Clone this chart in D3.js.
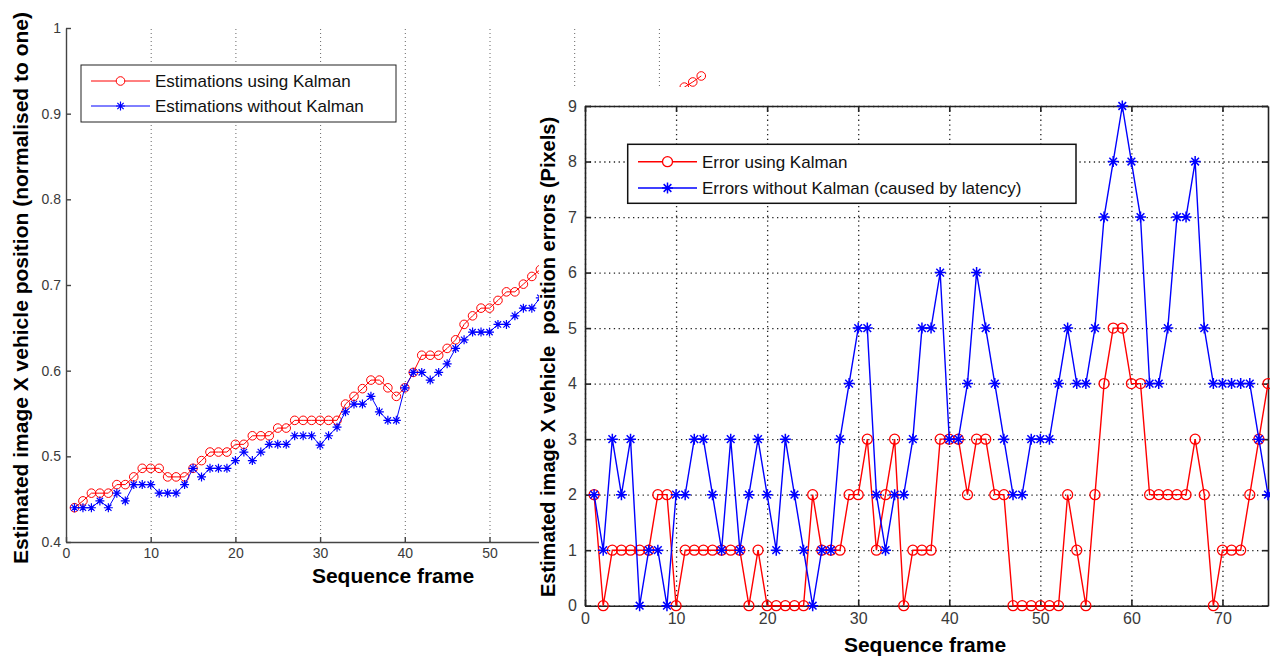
<!DOCTYPE html>
<html>
<head>
<meta charset="utf-8">
<script src="https://cdn.jsdelivr.net/npm/d3@7"></script>
<style>
  body { margin: 0; background: #fff; }
  text { font-family: "Liberation Sans", Arial, sans-serif; }
</style>
</head>
<body>
<div id="plot"></div>
<script>
// ---- left panel: estimated X position (normalised) ----
const posKalmanFrames = [1,2,3,4,5,6,7,8,9,10,11,12,13,14,15,16,17,18,19,20,21,22,23,24,25,26,27,28,29,30,
  31,32,33,34,35,36,37,38,39,40,41,42,43,44,45,46,47,48,49,50,51,52,53,54,55,56,73,74,75];
const posKalman = [0.440,0.448,0.457,0.457,0.457,0.467,0.467,0.476,0.486,0.486,
  0.486,0.476,0.476,0.476,0.486,0.495,0.505,0.505,0.505,0.514,
  0.514,0.524,0.524,0.524,0.533,0.533,0.542,0.542,0.542,0.542,
  0.542,0.542,0.561,0.570,0.579,0.589,0.589,0.580,0.570,0.580,
  0.598,0.618,0.618,0.618,0.626,0.636,0.654,0.664,0.673,0.673,
  0.682,0.692,0.692,0.701,0.710,0.718,0.931,0.937,0.944];
const posRawFrames = [1,2,3,4,5,6,7,8,9,10,11,12,13,14,15,16,17,18,19,20,21,22,23,24,25,26,27,28,29,30,
  31,32,33,34,35,36,37,38,39,40,41,42,43,44,45,46,47,48,49,50,51,52,53,54,55,56];
const posRaw = [0.440,0.440,0.440,0.448,0.440,0.457,0.448,0.467,0.467,0.467,
  0.457,0.457,0.457,0.467,0.486,0.476,0.486,0.486,0.486,0.495,
  0.505,0.495,0.505,0.514,0.514,0.514,0.524,0.524,0.524,0.513,
  0.524,0.534,0.552,0.561,0.561,0.570,0.552,0.542,0.542,0.580,
  0.598,0.598,0.589,0.598,0.608,0.626,0.636,0.645,0.645,0.645,
  0.654,0.654,0.664,0.673,0.673,0.685];
const posXTicks = [0,10,20,30,40,50,60,70];
const posYTicks = [0.4,0.5,0.6,0.7,0.8,0.9,1];

// ---- right panel: position errors in pixels ----
const errFrames = [1,2,3,4,5,6,7,8,9,10,11,12,13,14,15,16,17,18,19,20,21,22,23,24,25,
  26,27,28,29,30,31,32,33,34,35,36,37,38,39,40,41,42,43,44,45,46,47,48,49,50,
  51,52,53,54,55,56,57,58,59,60,61,62,63,64,65,66,67,68,69,70,71,72,73,74,75];
const errKalman = [2,0,1,1,1,1,1,2,2,0, 1,1,1,1,1,1,1,0,1,0, 0,0,0,0,2,1,1,1,2,2,
  3,1,2,3,0,1,1,1,3,3, 3,2,3,3,2,2,0,0,0,0, 0,0,2,1,0,2,4,5,5,4,
  4,2,2,2,2,2,3,2,0,1, 1,1,2,3,4];
const errRaw = [2,1,3,2,3,0,1,1,0,2, 2,3,3,2,1,3,1,2,3,2, 1,3,2,1,0,1,1,3,4,5,
  5,2,1,2,2,3,5,5,6,3, 3,4,6,5,4,3,2,2,3,3, 3,4,5,4,4,5,7,8,9,8,
  7,4,4,5,7,7,8,5,4,4, 4,4,4,3,2];
const errXTicks = [0,10,20,30,40,50,60,70];
const errYTicks = [0,1,2,3,4,5,6,7,8,9];

const RED = "#ff0000";
const BLUE = "#0000ff";

const svgWidth = 1270;
const svgHeight = 656;
const coverX = 539;   // where the right figure is pasted over the left one
const coverY = 87;

const svg = d3.select("#plot")
  .append("svg")
  .attr("width", svgWidth)
  .attr("height", svgHeight);

svg.append("rect")
  .attr("width", svgWidth)
  .attr("height", svgHeight)
  .attr("fill", "#fff");

// marker helpers
function starPath(cx, cy, s) {
  const d = s * 0.7;
  return `M${cx - s},${cy}H${cx + s}M${cx},${cy - s}V${cy + s}` +
    `M${cx - d},${cy - d}L${cx + d},${cy + d}M${cx - d},${cy + d}L${cx + d},${cy - d}`;
}

function drawSeries(g, frames, values, x, y, color, marker, opts) {
  const pts = frames.map((f, i) => [x(f), y(values[i])]);
  g.append("path")
    .attr("d", d3.line()(pts))
    .attr("fill", "none")
    .attr("stroke", color)
    .attr("stroke-width", opts.lw);
  if (marker === "o") {
    g.selectAll(null).data(pts).enter().append("circle")
      .attr("cx", d => d[0]).attr("cy", d => d[1])
      .attr("r", opts.r)
      .attr("fill", "none")
      .attr("stroke", color)
      .attr("stroke-width", opts.mw);
  } else {
    g.selectAll(null).data(pts).enter().append("path")
      .attr("d", d => starPath(d[0], d[1], opts.r))
      .attr("fill", "none")
      .attr("stroke", color)
      .attr("stroke-width", opts.mw);
  }
}

function legendEntry(g, x0, x1, y, color, marker, label, opts) {
  g.append("line")
    .attr("x1", x0).attr("x2", x1).attr("y1", y).attr("y2", y)
    .attr("stroke", color).attr("stroke-width", opts.lw);
  const mx = (x0 + x1) / 2;
  if (marker === "o") {
    g.append("circle").attr("cx", mx).attr("cy", y).attr("r", opts.r)
      .attr("fill", "#fff").attr("stroke", color).attr("stroke-width", opts.mw);
  } else {
    g.append("path").attr("d", starPath(mx, y, opts.r))
      .attr("stroke", color).attr("stroke-width", opts.mw);
  }
  g.append("text")
    .attr("x", x1 + 5).attr("y", y).attr("dy", "0.36em")
    .style("font-size", "17px").attr("fill", "#111")
    .text(label);
}

// ================= LEFT PANEL =================
const lx = d3.scaleLinear().domain([0, 80]).range([66, 743.6]);
const ly = d3.scaleLinear().domain([0.4, 1]).range([542, 28]);
const left = svg.append("g");

// vertical dotted grid only
left.append("g")
  .attr("transform", "translate(0,542)")
  .call(d3.axisBottom(lx).tickValues(posXTicks.slice(1)).tickSize(-(542 - 28)).tickFormat(""))
  .call(g => g.select(".domain").remove())
  .call(g => g.selectAll("line").attr("stroke", "#666").attr("stroke-dasharray", "1,3"));

const leftX = left.append("g")
  .attr("transform", "translate(0,542)")
  .call(d3.axisBottom(lx).tickValues(posXTicks).tickSizeInner(-5).tickSizeOuter(0).tickPadding(6));
// labels under the pasted right figure are not visible
leftX.selectAll(".tick").filter(d => lx(d) > coverX).select("text").remove();

const leftY = left.append("g")
  .attr("transform", "translate(66,0)")
  .call(d3.axisLeft(ly).tickValues(posYTicks).tickSizeInner(-5).tickSizeOuter(0).tickPadding(5)
    .tickFormat(d => d === 1 ? "1" : d3.format(".1f")(d)));
[leftX, leftY].forEach(a => {
  a.selectAll("path, line").attr("stroke", "#444").attr("stroke-width", 1.4);
  a.selectAll("text").style("font-size", "14px").attr("fill", "#3a3a3a");
});

drawSeries(left, posKalmanFrames, posKalman, lx, ly, RED, "o", { lw: 1, r: 4.3, mw: 1 });
drawSeries(left, posRawFrames, posRaw, lx, ly, BLUE, "*", { lw: 1, r: 4.5, mw: 1.2 });

left.append("text")
  .attr("x", 393).attr("y", 583)
  .attr("text-anchor", "middle")
  .style("font-size", "21px").style("font-weight", "bold")
  .text("Sequence frame");

left.append("text")
  .attr("transform", "translate(28,288) rotate(-90)")
  .attr("text-anchor", "middle")
  .style("font-size", "21px").style("font-weight", "bold")
  .text("Estimated image X vehicle position (normalised to one)");

// legend
const leftLegend = left.append("g");
leftLegend.append("rect")
  .attr("x", 81).attr("y", 65).attr("width", 315).attr("height", 57)
  .attr("fill", "#fff").attr("stroke", "#222").attr("stroke-width", 1);
legendEntry(leftLegend, 91, 150, 81, RED, "o", "Estimations using Kalman", { lw: 1, r: 4.3, mw: 1 });
legendEntry(leftLegend, 91, 150, 106, BLUE, "*", "Estimations without Kalman", { lw: 1, r: 4.5, mw: 1.2 });

// ================= RIGHT PANEL (pasted over the left one) =================
svg.append("rect")
  .attr("x", coverX).attr("y", coverY)
  .attr("width", svgWidth - coverX).attr("height", svgHeight - coverY)
  .attr("fill", "#fff");

const rx = d3.scaleLinear().domain([0, 75]).range([585, 1268]);
const ry = d3.scaleLinear().domain([0, 9]).range([605.7, 106]);
const right = svg.append("g");

// dotted grid
right.append("g")
  .attr("transform", "translate(0,605.7)")
  .call(d3.axisBottom(rx).tickValues(errXTicks).tickSize(-(605.7 - 106)).tickFormat(""))
  .call(g => g.select(".domain").remove())
  .call(g => g.selectAll("line").attr("stroke", "#222").attr("stroke-width", 1.3).attr("stroke-dasharray", "1.3,3.5"));
right.append("g")
  .attr("transform", "translate(585,0)")
  .call(d3.axisLeft(ry).tickValues(errYTicks).tickSize(-(1268 - 585)).tickFormat(""))
  .call(g => g.select(".domain").remove())
  .call(g => g.selectAll("line").attr("stroke", "#222").attr("stroke-width", 1.3).attr("stroke-dasharray", "1.3,3.5"));

// box axes with inward ticks
const rBottom = right.append("g").attr("transform", "translate(0,605.7)")
  .call(d3.axisBottom(rx).tickValues(errXTicks).tickSizeInner(-6).tickSizeOuter(0).tickPadding(7));
const rLeft = right.append("g").attr("transform", "translate(585,0)")
  .call(d3.axisLeft(ry).tickValues(errYTicks).tickSizeInner(-6).tickSizeOuter(0).tickPadding(8));
const rTop = right.append("g").attr("transform", "translate(0,106)")
  .call(d3.axisTop(rx).tickValues(errXTicks).tickSizeInner(-6).tickSizeOuter(0).tickFormat(""));
const rRight = right.append("g").attr("transform", "translate(1268,0)")
  .call(d3.axisRight(ry).tickValues(errYTicks).tickSizeInner(-6).tickSizeOuter(0).tickFormat(""));
[rBottom, rLeft, rTop, rRight].forEach(a => {
  a.selectAll("path, line").attr("stroke", "#222").attr("stroke-width", 1.6);
  a.selectAll("text").style("font-size", "16px").attr("fill", "#3a3a3a");
});

drawSeries(right, errFrames, errKalman, rx, ry, RED, "o", { lw: 1.4, r: 5, mw: 1.3 });
drawSeries(right, errFrames, errRaw, rx, ry, BLUE, "*", { lw: 1.4, r: 5.5, mw: 1.5 });

right.append("text")
  .attr("x", 925).attr("y", 652)
  .attr("text-anchor", "middle")
  .style("font-size", "21px").style("font-weight", "bold")
  .text("Sequence frame");

right.append("text")
  .attr("transform", "translate(555,357) rotate(-90)")
  .attr("text-anchor", "middle")
  .attr("xml:space", "preserve")
  .style("white-space", "pre")
  .style("font-size", "20px").style("font-weight", "bold")
  .text("Estimated image X vehicle  position errors (Pixels)");

// legend
const rightLegend = right.append("g");
rightLegend.append("rect")
  .attr("x", 627.7).attr("y", 144.3).attr("width", 448.3).attr("height", 59)
  .attr("fill", "#fff").attr("stroke", "#111").attr("stroke-width", 1.5);
legendEntry(rightLegend, 638, 697, 161.7, RED, "o", "Error using Kalman", { lw: 1.4, r: 5, mw: 1.3 });
legendEntry(rightLegend, 638, 697, 188, BLUE, "*", "Errors without Kalman (caused by latency)", { lw: 1.4, r: 5.5, mw: 1.5 });
</script>
</body>
</html>
